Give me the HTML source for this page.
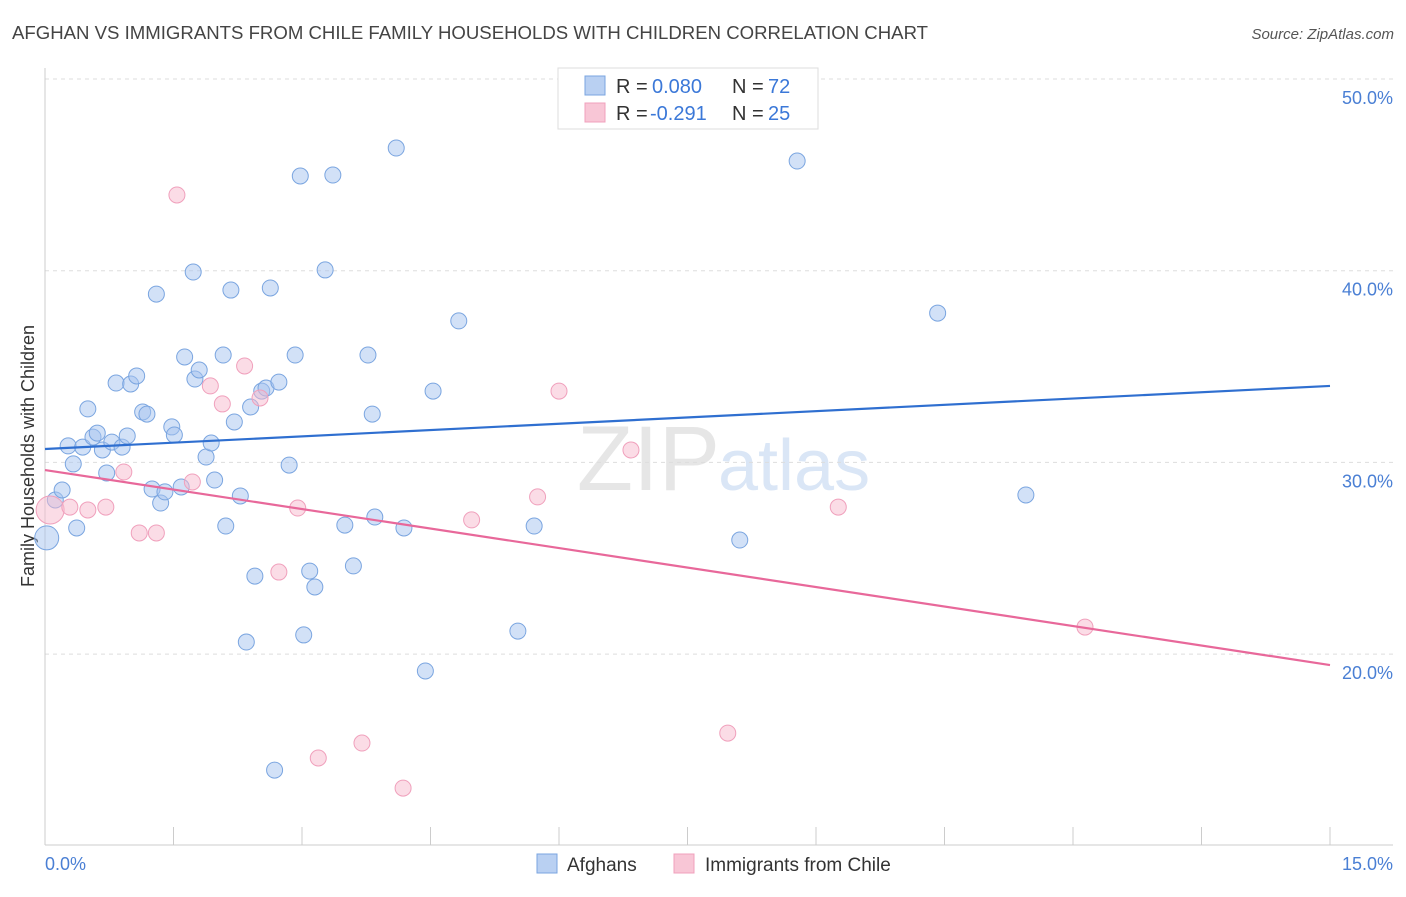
<!DOCTYPE html>
<html><head><meta charset="utf-8"><style>
body{margin:0;background:#fff;font-family:"Liberation Sans",sans-serif;}
svg text{font-family:"Liberation Sans",sans-serif;}
</style></head><body>
<svg id="chart" width="1406" height="892" xmlns="http://www.w3.org/2000/svg">
<text x="12" y="39" font-size="18.6" fill="#444">AFGHAN VS IMMIGRANTS FROM CHILE FAMILY HOUSEHOLDS WITH CHILDREN CORRELATION CHART</text>
<text x="1394" y="39" font-size="15" fill="#555" text-anchor="end" font-style="italic">Source: ZipAtlas.com</text>
<text x="720" y="490" font-size="92" fill="#e6e6e6" text-anchor="end" font-family="Liberation Serif">ZIP</text>
<text x="718" y="490" font-size="72" fill="#dae6f6">atlas</text>
<g id="grid"></g>
<g id="axes"></g>
<text transform="translate(34,456) rotate(-90)" font-size="18" fill="#333" text-anchor="middle">Family Households with Children</text>
<text x="45" y="870" font-size="18" fill="#4a7fd4">0.0%</text>
<text x="1393" y="870" font-size="18" fill="#4a7fd4" text-anchor="end">15.0%</text>
<g id="marks"></g>
<g id="lines"></g>
<g>
<rect x="558" y="68" width="260" height="61" fill="#fff" stroke="#ddd"/>
<rect x="585" y="76" width="20" height="19" fill="#b9d0f2" stroke="#7aa5e0"/>
<rect x="585" y="103" width="20" height="19" fill="#f8c6d6" stroke="#f0a0bc"/>
<text x="616" y="93" font-size="20" fill="#333">R =</text>
<text x="652" y="93" font-size="20" fill="#3b78d8">0.080</text>
<text x="732" y="93" font-size="20" fill="#333">N =</text>
<text x="768" y="93" font-size="20" fill="#3b78d8">72</text>
<text x="616" y="120" font-size="20" fill="#333">R =</text>
<text x="650" y="120" font-size="20" fill="#3b78d8">-0.291</text>
<text x="732" y="120" font-size="20" fill="#333">N =</text>
<text x="768" y="120" font-size="20" fill="#3b78d8">25</text>
</g>
<g>
<rect x="537" y="854" width="20" height="19" fill="#b9d0f2" stroke="#7aa5e0"/>
<text x="567" y="871" font-size="19" fill="#333">Afghans</text>
<rect x="674" y="854" width="20" height="19" fill="#f8c6d6" stroke="#f0a0bc"/>
<text x="705" y="871" font-size="19" fill="#333">Immigrants from Chile</text>
</g>
</svg>
<script>
const yTicks=[20,30,40,50];
const afghanX=[0.02,0.12,0.20,0.27,0.33,0.37,0.44,0.50,0.56,0.61,0.67,0.72,0.78,0.83,0.90,0.96,1.00,1.07,1.14,1.19,1.25,1.30,1.35,1.40,1.48,1.51,1.59,1.63,1.73,1.75,1.80,1.88,1.94,1.98,2.08,2.11,2.17,2.21,2.28,2.40,2.45,2.35,2.53,2.58,2.63,2.68,2.73,2.85,2.92,2.98,3.02,3.09,3.15,3.27,3.36,3.50,3.60,3.77,3.82,3.85,4.10,4.19,4.44,4.53,4.83,5.52,5.71,8.11,8.78,10.42,11.45];
const afghanY=[26.06,28.04,28.56,30.86,29.92,26.58,30.80,32.79,31.32,31.53,30.65,29.45,31.06,34.14,30.80,31.38,34.09,34.51,32.63,32.52,28.61,38.78,27.88,28.46,31.85,31.43,28.72,35.50,39.93,34.35,34.82,30.28,31.01,29.08,35.60,26.68,38.99,32.11,28.25,32.89,24.07,20.63,33.72,33.88,39.10,13.95,34.19,29.86,35.60,44.94,21.00,24.33,23.50,40.04,44.99,26.73,24.60,35.60,32.52,27.15,46.40,26.58,19.12,33.72,37.38,21.20,26.68,25.95,45.72,37.79,28.30];
const chileX=[0.06,0.29,0.50,0.71,0.92,1.10,1.30,1.54,1.72,1.93,2.07,2.33,2.51,2.73,2.95,3.19,3.70,4.18,4.98,5.75,6.00,6.84,7.97,9.26,12.14];
const chileY=[27.52,27.67,27.52,27.67,29.50,26.32,26.32,43.95,28.98,33.99,33.05,35.03,33.36,24.28,27.62,14.58,15.36,13.01,27.00,28.20,33.72,30.65,15.88,27.67,21.41];
const afghanTrend=[30.70,33.99];
const chileTrend=[29.60,19.43];
const NS="http://www.w3.org/2000/svg";
function xs(v){return 45+v/15*1285;}
function ys(v){return 79+(50-v)*19.17;}
function mk(t,a,p){const e=document.createElementNS(NS,t);for(const k in a)e.setAttribute(k,a[k]);p.appendChild(e);return e;}
const grid=document.getElementById('grid');
yTicks.forEach(t=>{
 const l=mk('line',{x1:45,x2:1393,y1:ys(t),y2:ys(t),stroke:'#ddd','stroke-dasharray':'4,4'},grid);
 
 
 const tx=mk('text',{x:1393,y:ys(t)+25,'font-size':18,fill:'#4a7fd4','text-anchor':'end'},grid);
 tx.textContent=t.toFixed(1)+'%';
 
 
});
const axes=document.getElementById('axes');
mk('line',{x1:45,x2:45,y1:68,y2:845,stroke:'#ccc'},axes);
mk('line',{x1:45,x2:1393,y1:845,y2:845,stroke:'#ccc'},axes);
for(let i=1;i<=10;i++){mk('line',{x1:xs(i*1.5),x2:xs(i*1.5),y1:827,y2:845,stroke:'#ccc'},axes);}
const marks=document.getElementById('marks');
afghanX.forEach((x,i)=>{
 const c=mk('circle',{cx:xs(x),cy:ys(afghanY[i]),r:i===0?12:8,fill:'rgba(165,195,240,0.5)',stroke:'#7aa5e0','stroke-width':1},marks);
 
 
});
chileX.forEach((x,i)=>{
 const c=mk('circle',{cx:xs(x),cy:ys(chileY[i]),r:i===0?14:8,fill:'rgba(248,185,205,0.5)',stroke:'#f0a0bc','stroke-width':1},marks);
 
 
});
const lines=document.getElementById('lines');
const bl=mk('line',{x1:xs(0),x2:xs(15),y1:ys(afghanTrend[0]),y2:ys(afghanTrend[1]),stroke:'#2f6fd0','stroke-width':2.2},lines);


const pl=mk('line',{x1:xs(0),x2:xs(15),y1:ys(chileTrend[0]),y2:ys(chileTrend[1]),stroke:'#e8689a','stroke-width':2.2},lines);


</script>
</body></html>
